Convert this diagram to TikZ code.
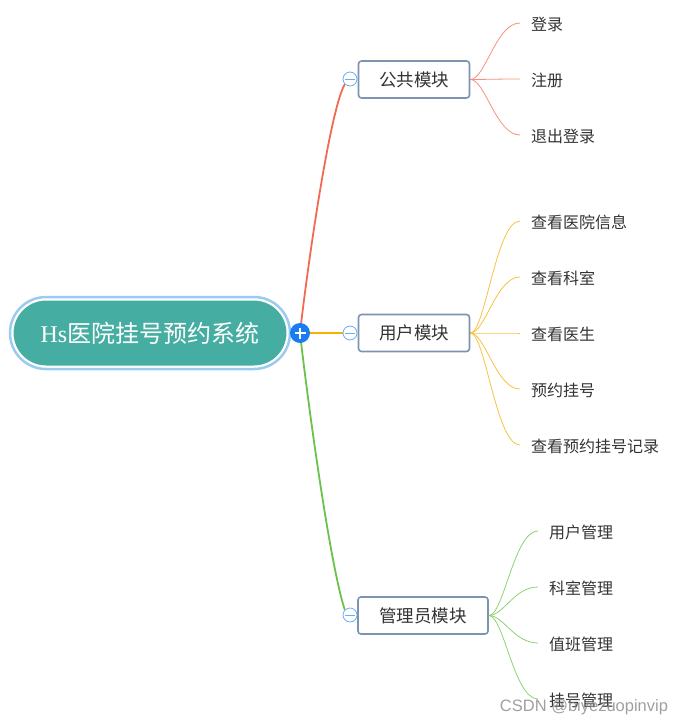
\documentclass[tikz,border=0pt]{standalone}
\usepackage{fontspec}
\setmainfont{Noto Sans CJK SC}
\newfontfamily\hsfont{Liberation Serif}
\newfontfamily\wmfont{Liberation Sans}
\usetikzlibrary{backgrounds}
\definecolor{ringblue}{HTML}{9CCBF0}
\definecolor{tealzero}{HTML}{45ADA1}
\definecolor{boxedge}{HTML}{7D93B0}
\definecolor{togblue}{HTML}{6AAEF0}
\definecolor{plusblue}{HTML}{1A7CF0}
\definecolor{txtgray}{HTML}{333333}
\definecolor{redmain}{HTML}{F26A52}
\definecolor{orgmain}{HTML}{F7B000}
\definecolor{grnmain}{HTML}{6BC24A}
\definecolor{redleaf}{HTML}{F7907E}
\definecolor{orgleaf}{HTML}{F8C23E}
\definecolor{grnleaf}{HTML}{8FD26F}
\begin{document}
\begin{tikzpicture}[x=1pt,y=-1pt,
  rootring/.style={rectangle, rounded corners=36pt, minimum width=280pt, minimum height=72pt, draw=ringblue, line width=2.5pt, inner sep=0pt},
  rootbox/.style={rectangle, rounded corners=33pt, minimum width=274pt, minimum height=66pt, fill=tealzero, draw=white, line width=1pt, text=white, inner sep=0pt, font=\fontsize{24}{24}\selectfont},
  modbox/.style={rectangle, rounded corners=3pt, draw=boxedge, line width=1.6pt, fill=white, minimum height=37pt, inner sep=0pt, text=txtgray, font=\fontsize{17.5}{17.5}\selectfont},
  leaf/.style={anchor=west, inner sep=0pt, text=txtgray, font=\fontsize{16}{16}\selectfont},
  toggle/.style={circle, draw=togblue, fill=white, minimum size=14pt, inner sep=0pt, line width=0.8pt},
  plusbtn/.style={circle, fill=plusblue, minimum size=20pt, inner sep=0pt},
  mainline/.style={line width=1.8pt},
  leafline/.style={line width=0.8pt}
]
\useasboundingbox (0,0) rectangle (689,725);

% root
\node[rootring] (rootring) at (150,333) {};
\node[rootbox] (root) at (150,333) {{\hsfont Hs}医院挂号预约系统};

% plus button
\node[plusbtn] (plus) at (300,333) {};
\draw[white, line width=2pt] ([xshift=-5.5pt]plus.center) -- ([xshift=5.5pt]plus.center);
\draw[white, line width=2pt] ([yshift=-5.5pt]plus.center) -- ([yshift=5.5pt]plus.center);

% module boxes
\node[modbox, minimum width=111pt] (b1) at (414,79.5) {公共模块};
\node[modbox, minimum width=111pt] (b2) at (414,333) {用户模块};
\node[modbox, minimum width=130pt] (b3) at (423,615.5) {管理员模块};

% toggles
\node[toggle] (m1) at (350,79) {};
\node[toggle] (m2) at (350,333) {};
\node[toggle] (m3) at (350,615) {};
\foreach \m in {m1,m2,m3}{
  \draw[togblue, line width=0.9pt] ([xshift=-5pt]\m.center) -- ([xshift=5pt]\m.center);
}

% leaves
\node[leaf] (l11) at (531,24) {登录};
\node[leaf] (l12) at (531,80) {注册};
\node[leaf] (l13) at (531,136) {退出登录};

\node[leaf] (l21) at (531,222) {查看医院信息};
\node[leaf] (l22) at (531,278) {查看科室};
\node[leaf] (l23) at (531,334) {查看医生};
\node[leaf] (l24) at (531,390) {预约挂号};
\node[leaf] (l25) at (531,446) {查看预约挂号记录};

\node[leaf] (l31) at (549,532) {用户管理};
\node[leaf] (l32) at (549,588) {科室管理};
\node[leaf] (l33) at (549,644) {值班管理};
\node[leaf] (l34) at (549,700) {挂号管理};

\begin{pgfonlayer}{background}
  % main connectors
  \draw[mainline, redmain] (plus.center) .. controls (308,262) and (330,110) .. (m1.south west);
  \draw[mainline, orgmain] (plus.center) -- (m2.west);
  \draw[mainline, grnmain] (plus.center) .. controls (308,404) and (330,565) .. (m3.north west);
  % leaf connectors
  \foreach \l in {l11,l12,l13}{
    \draw[leafline, redleaf] (b1.east) .. controls +(15,0) and +(-24,0) .. ([xshift=-11pt,yshift=1pt]\l.west);
  }
  \foreach \l in {l21,l22,l23,l24,l25}{
    \draw[leafline, orgleaf] (b2.east) .. controls +(15,0) and +(-24,0) .. ([xshift=-11pt,yshift=1pt]\l.west);
  }
  \foreach \l in {l31,l32,l33,l34}{
    \draw[leafline, grnleaf] (b3.east) .. controls +(15,0) and +(-24,0) .. ([xshift=-11pt,yshift=1pt]\l.west);
  }
\end{pgfonlayer}

% watermark
\node[text=gray, opacity=0.75, inner sep=0pt, font=\wmfont\fontsize{16.5}{16.5}\selectfont] (wm) at (584,707) {CSDN @biyezuopinvip};
\end{tikzpicture}
\end{document}
